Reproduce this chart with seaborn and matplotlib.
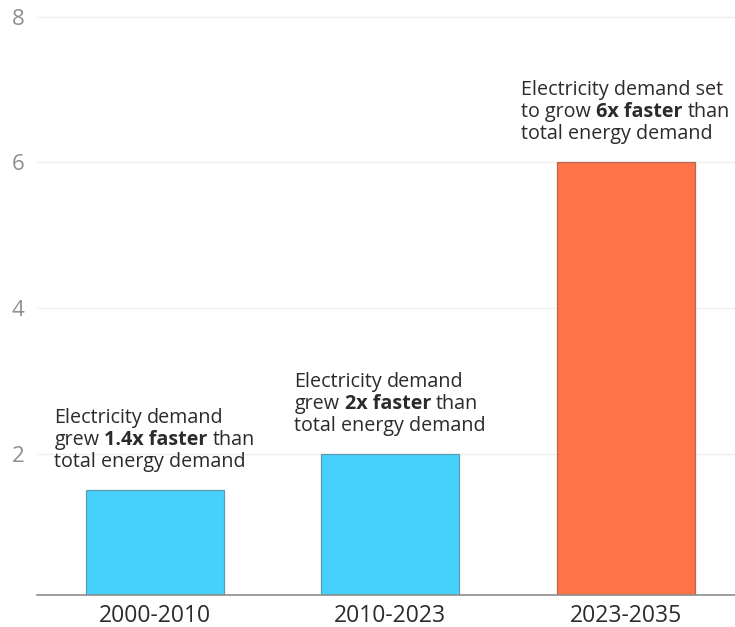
import matplotlib
matplotlib.use("Agg")
import matplotlib.pyplot as plt
import seaborn as sns
import pandas as pd

# ---- data ----
periods = ["2000-2010", "2010-2023", "2023-2035"]
ratios = [1.5, 2.0, 6.0]
bar_colors = ["#46D1FC", "#46D1FC", "#FF7349"]
edge_colors = ["#5E9CB0", "#5E9CB0", "#B8674E"]
yticks = [2, 4, 6, 8]
ytick_labels = ["2", "4", "6", "8"]
notes = [
    [[("Electricity", "normal"), ("demand", "normal")],
     [("grew", "normal"), ("1.4x faster", "bold"), ("than", "normal")],
     [("total energy demand", "normal")]],
    [[("Electricity", "normal"), ("demand", "normal")],
     [("grew", "normal"), ("2x faster", "bold"), ("than", "normal")],
     [("total energy demand", "normal")]],
    [[("Electricity demand set", "normal")],
     [("to grow", "normal"), ("6x faster", "bold"), ("than", "normal")],
     [("total energy demand", "normal")]],
]

sns.set_theme(style="white")
plt.rcParams["font.family"] = ["Open Sans", "DejaVu Sans"]

W, H = 735, 627
fig = plt.figure(figsize=(W / 100, H / 100), dpi=100)
ax = fig.add_axes([37 / W, 32 / H, (W - 37) / W, (H - 32 - 2) / H])

df = pd.DataFrame({"period": periods, "ratio": ratios})
sns.barplot(data=df, x="period", y="ratio", hue="period", palette=bar_colors,
            legend=False, width=0.586, saturation=1, linewidth=0.9, ax=ax)
for p, ec in zip(ax.patches, edge_colors):
    p.set_edgecolor(ec)

ax.set_ylim(0.065, 8.2)
ax.set_xlim(-0.5, 2.464)
ax.set_yticks(yticks)
ax.set_yticklabels(ytick_labels)
ax.yaxis.grid(True, color="#eeeeee", linewidth=1)
ax.set_axisbelow(True)
for s in ["left", "right", "top"]:
    ax.spines[s].set_visible(False)
ax.spines["bottom"].set_color("#8c8c8c")
ax.spines["bottom"].set_linewidth(1.2)
ax.tick_params(axis="y", length=0, pad=9, labelsize=16, labelcolor="#8e8e8e")
ax.tick_params(axis="x", length=0, pad=6.5, labelsize=16.5, labelcolor="#2b2b2b")
ax.set_xlabel("")
ax.set_ylabel("")

FS = 14.2
TC = "#2b2b2b"
fig.canvas.draw()
r = fig.canvas.get_renderer()


def width_of(s, wt):
    t = ax.text(0, 0, s, fontsize=FS, fontweight=wt)
    w = t.get_window_extent(r).width
    t.remove()
    return w


space = width_of("x x", "normal") - width_of("xx", "normal")
gap_px = 23
line_px = 22

for i, (val, lines) in enumerate(zip(ratios, notes)):
    rows = []
    widths = []
    for segs in lines:
        x = 0
        row = []
        for k, (txt, wt) in enumerate(segs):
            if k > 0:
                x += space
            row.append((txt, wt, x))
            x += width_of(txt, wt)
        rows.append(row)
        widths.append(x)
    block = max(widths)
    n = len(rows)
    for li, row in enumerate(rows):
        dy = gap_px + (n - 1 - li) * line_px
        for txt, wt, x in row:
            ax.annotate(txt, xy=(i, val), xytext=(x - block / 2, dy),
                        textcoords="offset pixels", fontsize=FS, fontweight=wt,
                        color=TC, ha="left", va="baseline")

fig.savefig("out.png", dpi=100)
